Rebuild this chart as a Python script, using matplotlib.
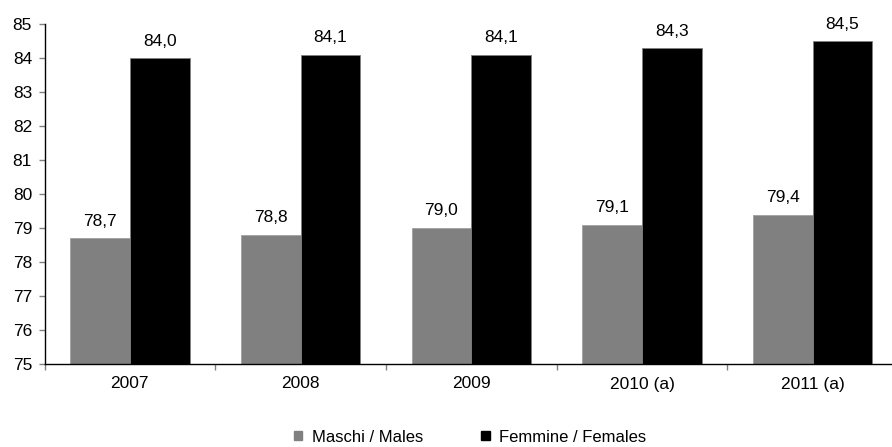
import numpy as np
import matplotlib
matplotlib.use('Agg')
import matplotlib.pyplot as plt
from matplotlib.patches import Patch

plt.rcParams['font.family'] = ['Liberation Sans', 'DejaVu Sans']

# data
years = ['2007', '2008', '2009', '2010 (a)', '2011 (a)']
males = [78.7, 78.8, 79.0, 79.1, 79.4]
females = [84.0, 84.1, 84.1, 84.3, 84.5]
series_names = ['Maschi / Males', 'Femmine / Females']

fig = plt.figure(figsize=(8.92, 4.47), dpi=100)
W, H = 892, 447
left, right, top, bottom = 44.5, 898, 24.5, 364
ax = fig.add_axes([left / W, 1 - bottom / H, (right - left) / W, (bottom - top) / H])

x = np.arange(len(years))
w = 0.35
b1 = ax.bar(x - w / 2, np.array(males) - 75, w, bottom=75, color='#808080',
            edgecolor='#a0a0a0', linewidth=0.6)
b2 = ax.bar(x + w / 2, np.array(females) - 75, w, bottom=75, color='black',
            edgecolor='#808080', linewidth=0.6)

for bars, vals in ((b1, males), (b2, females)):
    for r, v in zip(bars, vals):
        ax.annotate(f'{v:.1f}'.replace('.', ','), (r.get_x() + r.get_width() / 2, v),
                    xytext=(0, 7), textcoords='offset points',
                    ha='center', va='bottom', fontsize=12.5)

ax.set_xlim(-0.5, len(years) - 0.5)
ax.set_ylim(75, 85)
ax.set_yticks(range(75, 86))
ax.set_xticks(x)
ax.set_xticklabels(years)
ax.set_xticks(np.arange(-0.5, len(years), 1), minor=True)
ax.tick_params(axis='x', which='major', length=0, pad=9, labelsize=12.5)
ax.tick_params(axis='x', which='minor', length=4, color='#808080', width=1)
ax.tick_params(axis='y', length=4, color='#808080', width=1, pad=5, labelsize=12.5)

for s in ('top', 'right'):
    ax.spines[s].set_visible(False)
ax.spines['left'].set_linewidth(1)
ax.spines['bottom'].set_linewidth(1)

handles = [Patch(facecolor='#808080', edgecolor='#808080'),
           Patch(facecolor='black', edgecolor='black')]
fig.legend(handles, series_names, loc='center', bbox_to_anchor=(470 / W, 1 - 437 / H),
           ncol=2, frameon=False, fontsize=12, handlelength=0.5, handleheight=0.5,
           handletextpad=0.55, columnspacing=3.5, borderpad=0)

fig.savefig('out.png', dpi=100)
